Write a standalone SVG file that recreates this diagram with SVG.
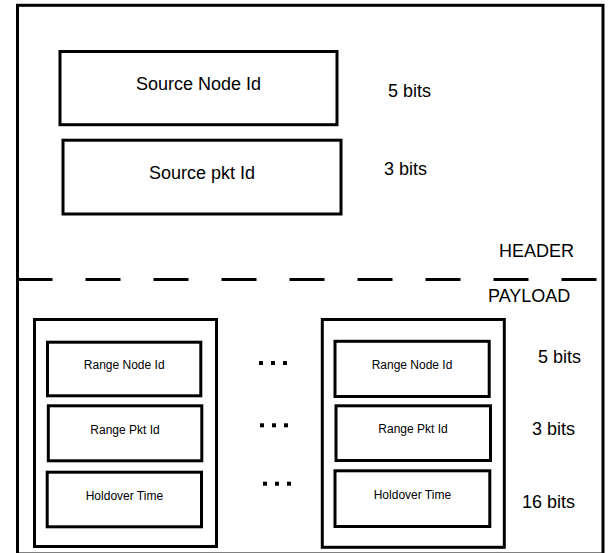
<svg xmlns="http://www.w3.org/2000/svg" width="612" height="553" viewBox="0 0 612 553">
<style>
  .box { fill: #ffffff; stroke: #000000; stroke-width: 3; }
  .frame { fill: none; stroke: #000000; stroke-width: 3; }
  .big { font-family: "Liberation Sans", Arial, sans-serif; font-size: 18px; fill: #000000; }
  .small { font-family: "Liberation Sans", Arial, sans-serif; font-size: 12px; fill: #000000; text-anchor: middle; }
  .mid { text-anchor: middle; }
  .dot { fill: #000000; }
</style>
<rect x="0" y="0" width="612" height="553" fill="#ffffff"/>
<g id="frame">
  <rect class="frame" x="17.5" y="5.3" width="585.5" height="548.7"/>
  <line x1="17.5" y1="279.5" x2="603" y2="279.5" stroke="#000000" stroke-width="3" stroke-dasharray="35 33"/>
  <text class="big" x="499" y="257">HEADER</text>
  <text class="big" x="488" y="301.5">PAYLOAD</text>
</g>
<g id="source-node-id">
  <rect class="box" x="60" y="51.5" width="277" height="73.2"/>
  <text class="big mid" x="198.5" y="90">Source Node Id</text>
  <text class="big" x="388" y="97">5 bits</text>
</g>
<g id="source-pkt-id">
  <rect class="box" x="63" y="140.2" width="278" height="73.8"/>
  <text class="big mid" x="202" y="179">Source pkt Id</text>
  <text class="big" x="384" y="175">3 bits</text>
</g>
<g id="range-entry-1">
  <rect class="box" x="34.5" y="319.5" width="182" height="227"/>
  <g id="range-node-id-1">
    <rect class="box" x="47.5" y="342.2" width="153.3" height="53.6"/>
    <text class="small" x="124.2" y="369">Range Node Id</text>
  </g>
  <g id="range-pkt-id-1">
    <rect class="box" x="48.3" y="405.8" width="153.5" height="55"/>
    <text class="small" x="125" y="433.5">Range Pkt Id</text>
  </g>
  <g id="holdover-time-1">
    <rect class="box" x="47.2" y="472.2" width="154.3" height="54.6"/>
    <text class="small" x="124.4" y="499.5">Holdover Time</text>
  </g>
</g>
<g id="ellipsis">
  <rect class="dot" x="259" y="361" width="4" height="4"/>
  <rect class="dot" x="271" y="361" width="4" height="4"/>
  <rect class="dot" x="283" y="361" width="4" height="4"/>
  <rect class="dot" x="260" y="423.3" width="4" height="4"/>
  <rect class="dot" x="272" y="423.3" width="4" height="4"/>
  <rect class="dot" x="284" y="423.3" width="4" height="4"/>
  <rect class="dot" x="263" y="481.7" width="4" height="4"/>
  <rect class="dot" x="275" y="481.7" width="4" height="4"/>
  <rect class="dot" x="287" y="481.7" width="4" height="4"/>
</g>
<g id="range-entry-n">
  <rect class="box" x="322.3" y="319.5" width="182" height="227.8"/>
  <g id="range-node-id-n">
    <rect class="box" x="335" y="341.3" width="154.2" height="55.2"/>
    <text class="small" x="412" y="368.5">Range Node Id</text>
  </g>
  <g id="range-pkt-id-n">
    <rect class="box" x="336" y="405.8" width="154.5" height="54.7"/>
    <text class="small" x="413" y="433">Range Pkt Id</text>
  </g>
  <g id="holdover-time-n">
    <rect class="box" x="335" y="470.8" width="154.8" height="55.7"/>
    <text class="small" x="412.4" y="499">Holdover Time</text>
  </g>
</g>
<g id="bit-labels">
  <text class="big" x="538" y="363.3">5 bits</text>
  <text class="big" x="532" y="435">3 bits</text>
  <text class="big" x="522" y="508.3">16 bits</text>
</g>
<g id="connectors"></g>
</svg>
